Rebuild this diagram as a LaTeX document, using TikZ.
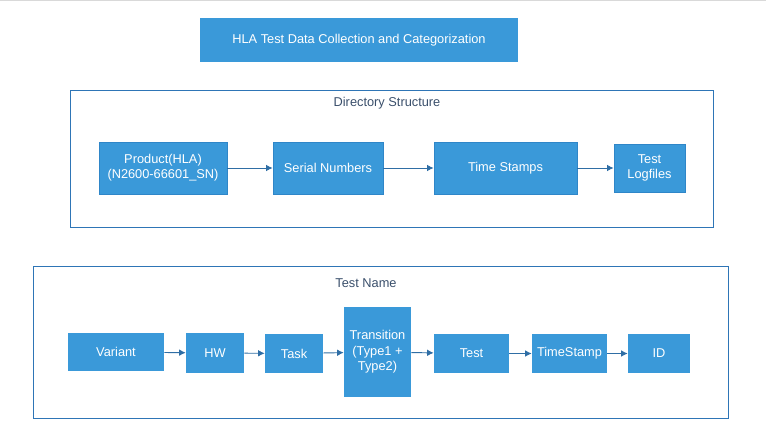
\documentclass[tikz,border=0pt]{standalone}
\usepackage{fontspec}
\setmainfont{Liberation Sans}
\usetikzlibrary{arrows.meta}
\definecolor{boxblue}{HTML}{3A99D9}
\definecolor{boxedge}{HTML}{2F86C8}
\definecolor{frameblue}{HTML}{2E75B6}
\definecolor{arrowblue}{HTML}{2F6EA5}
\definecolor{labelgray}{HTML}{3A4F6B}

\begin{document}
\begin{tikzpicture}[x=0.75pt,y=-0.75pt]
        \tikzstyle{every node}=[inner sep=1pt, align=center, font=\fontsize{9.6}{11.5}\selectfont]
        \tikzstyle{block}=[fill=boxblue, text=white]
        \tikzstyle{dirblock}=[block, draw=boxedge, line width=0.5pt]
        \tikzstyle{frame}=[draw=frameblue, line width=0.6pt]
        \tikzstyle{caption}=[text=labelgray]
        \tikzstyle{link}=[draw=arrowblue, line width=0.7pt, -{Latex[length=5pt,width=5pt]}]
        \useasboundingbox (0,0) rectangle (766,443);
        \draw[black!15, line width=1pt] (0,0.7) -- (766,0.7);
        % title
        \node[block, minimum width=238.5pt, minimum height=33pt] (title) at (359,40) {HLA Test Data Collection and Categorization};
        % directory structure
        \node[frame, minimum width=482.25pt, minimum height=102.75pt] (dirframe) at (391.5,158.5) {};
        \node[caption] (dirlabel) at (387,103) {Directory Structure};
        \node[dirblock, minimum width=96pt, minimum height=39pt] (prod) at (163,168) {Product(HLA)\\(N2600-66601\_SN)};
        \node[dirblock, minimum width=82.5pt, minimum height=39pt] (sn) at (328,168) {Serial Numbers};
        \node[dirblock, minimum width=107.25pt, minimum height=39pt] (ts) at (505.5,168) {Time Stamps};
        \node[dirblock, minimum width=53.25pt, minimum height=36pt] (log) at (649.5,168) {Test\\Logfiles};
        \foreach \a/\b in {prod/sn, sn/ts, ts/log}
            \draw[link] (\a) -- (\b);
        % test name
        \node[frame, minimum width=521.25pt, minimum height=114pt] (nameframe) at (380.5,342) {};
        \node[caption] (namelabel) at (366,283) {Test Name};
        \node[block, minimum width=72pt, minimum height=28.5pt] (var) at (116,352) {Variant};
        \node[block, minimum width=43.5pt, minimum height=30pt] (hw) at (215,353) {HW};
        \node[block, minimum width=43.5pt, minimum height=29.25pt] (task) at (294,353.5) {Task};
        \node[block, minimum width=50.25pt, minimum height=67.5pt] (trans) at (377.5,352) {Transition\\(Type1 +\\Type2)};
        \node[block, minimum width=56.25pt, minimum height=29.25pt] (test) at (471.5,353.5) {Test};
        \node[block, minimum width=56.25pt, minimum height=29.25pt] (stamp) at (569.5,353.5) {TimeStamp};
        \node[block, minimum width=46.5pt, minimum height=29.25pt] (id) at (659,353.5) {ID};
        \foreach \a/\b in {var/hw, hw/task, task/trans, trans/test, test/stamp, stamp/id}
            \draw[link] (\a) -- (\b);
\end{tikzpicture}
\end{document}
